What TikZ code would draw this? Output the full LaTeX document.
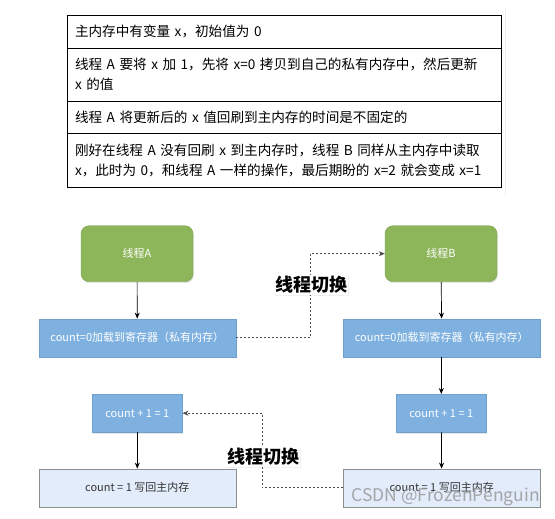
\documentclass[tikz,border=0pt]{standalone}
\usepackage{fontspec}
\setmainfont{Noto Sans CJK SC}
\newfontfamily\rowfont{Noto Sans CJK SC}[WordSpace=1.4]
\usetikzlibrary{arrows.meta, positioning, shadows}

\definecolor{threadgreen}{HTML}{8DB55A}
\definecolor{threadline}{HTML}{7C9F4E}
\definecolor{regblue}{HTML}{7EB1E0}
\definecolor{regline}{HTML}{6D9FCF}
\definecolor{memblue}{HTML}{E3ECFB}
\definecolor{memline}{HTML}{8E8E8E}

\tikzset{
  row/.style={draw, line width=0.9pt, anchor=north west, outer sep=0pt,
    minimum width=434pt, text width=418pt, inner xsep=8pt, align=left,
    font=\rowfont\fontsize{13.6}{20}\selectfont},
  boxshadow/.style={drop shadow={opacity=0.2, shadow xshift=1pt, shadow yshift=-1.5pt}},
  threadbox/.style={boxshadow, draw=threadline, fill=threadgreen, rounded corners=8pt,
    text=white, minimum width=112pt, minimum height=56pt, font=\fontsize{11}{13}\selectfont},
  regbox/.style={boxshadow, draw=regline, fill=regblue, text=white,
    minimum height=38pt, font=\fontsize{11}{13}\selectfont},
  membox/.style={boxshadow, draw=memline, fill=memblue, text=black!80,
    minimum width=197pt, minimum height=38pt, font=\fontsize{11}{13}\selectfont},
  flow/.style={draw, line width=0.7pt, -{Stealth[length=6pt, width=5pt]}},
  switch/.style={draw=black!70, line width=0.7pt, dash pattern=on 2pt off 2pt,
    -{Stealth[length=6pt, width=5pt]}},
  switchlabel/.style={fill=white, inner sep=1pt,
    drop shadow={opacity=0.12, shadow xshift=1pt, shadow yshift=-1pt},
    font=\fontsize{18}{20}\selectfont\bfseries},
}

\begin{document}
\begin{tikzpicture}[x=1pt, y=-1pt]
\useasboundingbox (0,0) rectangle (555,519);
%%
\node (row_1) at (67,15) [row, minimum height=33pt] {主内存中有变量 x，初始值为 0};
\node (row_2) at (67,48) [row, minimum height=53pt] {线程 A 要将 x 加 1，先将 x=0 拷贝到自己的私有内存中，然后更新\\x 的值};
\node (row_3) at (67,101) [row, minimum height=32pt] {线程 A 将更新后的 x 值回刷到主内存的时间是不固定的};
\node (row_4) at (67,133) [row, minimum height=54pt] {刚好在线程 A 没有回刷 x 到主内存时，线程 B 同样从主内存中读取\\x，此时为 0，和线程 A 一样的操作，最后期盼的 x=2 就会变成 x=1};
\draw [black!7, line width=1pt] (505,8) -- (505,195);
%%
\node (thread_a) at (137,253.7) [threadbox] {线程A};
\node (thread_b) at (441,253.7) [threadbox] {线程B};
\node (load_a) at (137.3,337.8) [regbox, minimum width=197pt] {count=0加载到寄存器（私有内存）};
\node (load_b) at (441.7,337.8) [regbox, minimum width=197pt] {count=0加载到寄存器（私有内存）};
\node (inc_a) at (137.3,413.2) [regbox, minimum width=90pt] {count + 1 = 1};
\node (inc_b) at (441.3,413.2) [regbox, minimum width=90pt] {count + 1 = 1};
\node (write_a) at (137.3,487.8) [membox] {count = 1 写回主内存};
\node (write_b) at (441.7,487.8) [membox] {count = 1 写回主内存};
%
\draw [flow] (thread_a) -- (load_a);
\draw [flow] (inc_a) -- (write_a);
\draw [flow] (thread_b) -- (load_b);
\draw [flow] (load_b.south -| inc_b) -- (inc_b);
\draw [flow] (inc_b) -- (write_b);
\draw [switch] (load_a.east) -- ++(74.3,0) |- (thread_b.west);
\draw [switch] (write_b.west) -- ++(-81,0) |- (inc_a.east);
%
\node (switch_1) at (311,285) [switchlabel] {线程切换};
\node (switch_2) at (263,457) [switchlabel] {线程切换};
\node (mark) at (540,497) [anchor=east, inner sep=0pt, text=black!40, opacity=0.85,
  font=\fontsize{17.5}{19}\selectfont] {CSDN @FrozenPenguin};
%
\end{tikzpicture}
\end{document}
